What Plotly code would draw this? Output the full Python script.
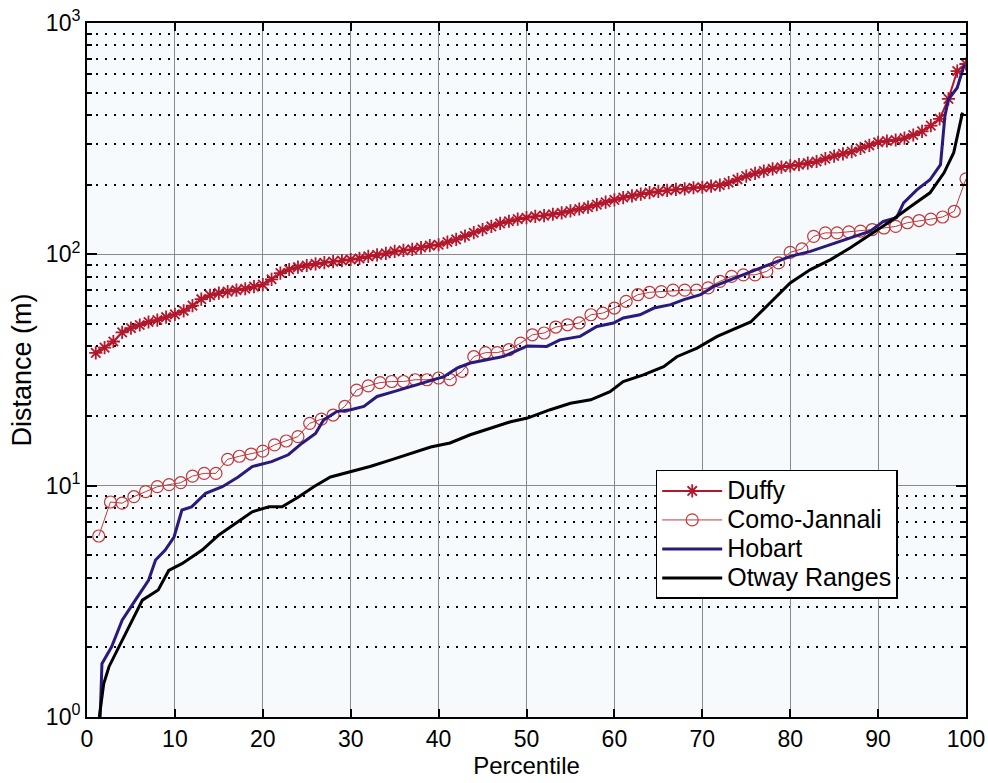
import plotly.graph_objects as go

# ---------------- data ----------------
duffy_p = list(range(1, 101))
duffy_v = [37.5, 39.5, 42, 46, 48, 49.5, 51, 52, 53.5, 55,
           57, 60, 64, 66.5, 68, 69, 70, 71, 72.5, 74,
           78, 83, 86, 88, 89.5, 91, 92, 93, 94, 95,
           96, 98, 99.5, 101, 103, 104, 105, 107, 109, 110,
           113, 116, 120, 124, 128, 132, 136, 139, 142, 144,
           146, 147, 149, 151, 154, 157, 160, 164, 168, 172,
           176, 179, 182, 185, 187, 189, 191, 192, 194, 195,
           197, 199, 204, 211, 218, 224, 229, 234, 238, 241,
           244, 248, 252, 259, 266, 272, 278, 287, 296, 305,
           309, 312, 318, 328, 340, 360, 385, 470, 620, 665]

como_p = [round(k * 100 / 75, 3) for k in range(1, 76)]
como_v = [6.06, 8.5, 8.4, 8.96, 9.42, 9.9, 10.1, 10.3, 11.0, 11.3,
          11.3, 13.0, 13.4, 13.7, 14.1, 15.0, 15.6, 16.3, 18.6, 19.4,
          20.2, 22.0, 25.9, 27.0, 27.9, 28.2, 28.2, 28.7, 28.7, 29.2,
          28.7, 31.2, 36.1, 37.6, 37.6, 38.7, 41.3, 44.9, 45.7, 48.5,
          49.6, 50.5, 54.8, 55.7, 58.6, 62.6, 66.9, 68.5, 69, 70,
          70, 70, 71.6, 76.4, 80.3, 81.5, 81.5, 84.4, 91.8, 102,
          105.5, 119.6, 123.8, 123.8, 125, 126, 128, 130, 132, 137,
          140, 142, 145, 153.5, 212]

hobart_p = [1.5, 1.7, 2.8, 4.0, 5.5, 7.0, 7.8, 8.9, 9.9, 10.8,
            11.9, 13.5, 15.4, 17.2, 18.8, 21.0, 22.9, 24.5, 26.0, 26.9,
            28.4, 30.0, 31.5, 33.0, 34.9, 36.8, 38.7, 40.6, 42.1, 43.6,
            45.5, 47.4, 50.1, 52.3, 53.8, 56.1, 58.0, 59.9, 61.0, 62.9,
            64.5, 66.4, 67.9, 69.8, 71.3, 73.2, 74.7, 76.2, 77.7, 80.0,
            82.3, 84.6, 86.8, 89.1, 90.6, 92.1, 92.9, 94.4, 95.9, 97.1,
            97.6, 98.0, 99.0, 99.8]
hobart_v = [1.0, 1.70, 2.01, 2.62, 3.2, 3.9, 4.77, 5.27, 6.0, 7.85,
            8.1, 9.27, 9.9, 10.9, 12.1, 12.7, 13.6, 15.3, 16.8, 19.2,
            20.9, 21.3, 22.0, 24.3, 25.5, 26.8, 28.2, 29.6, 32.2, 33.9,
            35.0, 36.2, 40.2, 40.0, 42.7, 44.2, 48.8, 50.5, 53.1, 54.8,
            58.6, 60.6, 63.7, 66.9, 72.7, 77.6, 81.6, 85.9, 90.2, 98,
            103, 110, 118, 126, 139, 144, 167, 190, 210, 244,
            396, 468, 525, 660]

otway_p = [1.4, 1.9, 2.5, 3.6, 4.7, 6.3, 8.1, 9.3, 10.8, 13.1,
           15.0, 16.9, 18.8, 20.7, 22.2, 24.1, 25.8, 27.7, 30.0, 32.2,
           34.5, 36.8, 39.1, 41.3, 43.6, 45.9, 48.2, 50.1, 52.7, 55.0,
           57.3, 59.5, 61.0, 63.3, 65.6, 67.1, 69.4, 71.7, 73.9, 75.5,
           77.7, 80.0, 82.3, 84.6, 86.8, 89.1, 91.4, 93.7, 95.9, 97.5,
           98.6, 99.6]
otway_v = [1.0, 1.39, 1.65, 2.0, 2.45, 3.2, 3.54, 4.3, 4.6, 5.27,
           6.12, 6.87, 7.71, 8.11, 8.11, 8.96, 9.9, 10.9, 11.5, 12.1,
           12.9, 13.8, 14.7, 15.3, 16.6, 17.7, 18.9, 19.6, 21.3, 22.7,
           23.5, 25.5, 28.2, 30.1, 32.7, 36.1, 39.3, 44.2, 48, 51,
           61.6, 75.2, 85.9, 94.9, 106.6, 121.6, 139, 161, 184.5, 225,
           275, 410]

series_names = ["Duffy", "Como-Jannali", "Hobart", "Otway Ranges"]
x_ticks = [0, 10, 20, 30, 40, 50, 60, 70, 80, 90, 100]
y_ticks = [1, 10, 100, 1000]
y_tick_text = ["10<sup>0</sup>", "10<sup>1</sup>", "10<sup>2</sup>", "10<sup>3</sup>"]
y_minor = [m * d for d in (1, 10, 100) for m in range(2, 10)]

# ---------------- figure ----------------
FONT = "Liberation Sans, Arial, Helvetica, sans-serif"


def legend_label(name):
    # larger text inside a compact legend row
    return '<span style="font-size:25px">' + name + '</span>'


fig = go.Figure()
fig.add_trace(go.Scatter(
    x=duffy_p, y=duffy_v, name=legend_label(series_names[0]), mode="lines+markers",
    line=dict(color="#b3172b", width=2),
    marker=dict(symbol="asterisk-open", size=11, color="#b3172b",
                line=dict(color="#b3172b", width=1.8))))
fig.add_trace(go.Scatter(
    x=como_p, y=como_v, name=legend_label(series_names[1]), mode="lines+markers",
    line=dict(color="#c0393b", width=1),
    marker=dict(symbol="circle-open", size=12, color="#c0393b",
                line=dict(color="#c0393b", width=1.2))))
fig.add_trace(go.Scatter(
    x=hobart_p, y=hobart_v, name=legend_label(series_names[2]), mode="lines",
    line=dict(color="#2a1a7c", width=3)))
fig.add_trace(go.Scatter(
    x=otway_p, y=otway_v, name=legend_label(series_names[3]), mode="lines",
    line=dict(color="black", width=3)))

fig.update_layout(
    width=988, height=783,
    margin=dict(l=87, r=22, t=23, b=66),
    paper_bgcolor="white",
    plot_bgcolor="#f6fafd",
    font=dict(family=FONT, size=23, color="black"),
    showlegend=True,
    legend=dict(x=0.647, y=0.356, xanchor="left", yanchor="top",
                bgcolor="white", bordercolor="black", borderwidth=1.5,
                font=dict(family=FONT, size=20, color="black"),
                tracegroupgap=0, itemwidth=60),
)
fig.update_xaxes(
    range=[0, 100], tickmode="array", tickvals=x_ticks,
    showline=True, linecolor="black", linewidth=2, mirror="ticks",
    ticks="inside", ticklen=8, tickwidth=2, tickcolor="black",
    showgrid=True, gridcolor="#8a8a8a", gridwidth=1,
    zeroline=False, automargin=False,
    title=dict(text="Percentile", font=dict(size=24), standoff=4),
    tickfont=dict(size=23),
)
fig.update_yaxes(
    type="log", range=[0, 3], tickmode="array", tickvals=y_ticks,
    ticktext=y_tick_text,
    showline=True, linecolor="black", linewidth=2, mirror="ticks",
    ticks="inside", ticklen=10, tickwidth=2, tickcolor="black",
    showgrid=True, gridcolor="#8a8a8a", gridwidth=1,
    minor=dict(tickmode="array", tickvals=y_minor, ticks="inside",
               ticklen=5, tickwidth=1.5, tickcolor="black",
               showgrid=True, gridcolor="black", gridwidth=2,
               griddash="2px,7px"),
    zeroline=False, automargin=False,
    title=dict(text="Distance (m)", font=dict(size=27), standoff=6),
    tickfont=dict(size=23),
)

fig.write_html(
    "out.html",
    config={"displayModeBar": False},
    post_script="document.body.style.margin='0';document.body.style.padding='0';"
                "document.body.style.overflow='hidden';",
)
